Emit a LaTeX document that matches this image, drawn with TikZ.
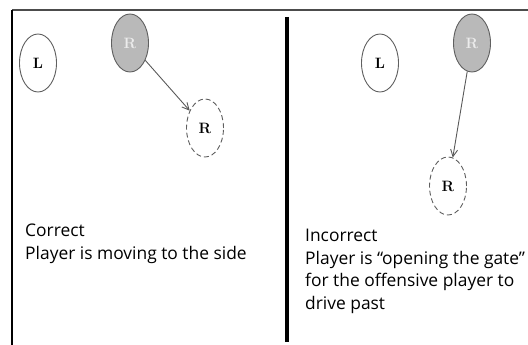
\documentclass[tikz,border=0pt]{standalone}
\usepackage{fontspec}
\newfontfamily\notefont{Open Sans}
\usetikzlibrary{arrows.meta,shapes.geometric}
\tikzset{
  player/.style={ellipse,draw=gray!75!black,line width=0.9pt,
    minimum width=37,minimum height=58,inner sep=0pt,
    font=\bfseries\fontsize{15}{15}\selectfont},
  start/.style={player,fill=gray!55,text=gray!15},
  moved/.style={player,dashed,dash pattern=on 5pt off 3pt},
  move/.style={draw=gray!70!black,line width=0.9pt,-{Straight Barb[length=7pt,width=7pt]}},
  note/.style={anchor=north west,align=left,inner sep=0pt,
    font=\notefont\fontsize{17.4}{22.5}\selectfont}
}
\begin{document}
\begin{tikzpicture}[x=1pt,y=-1pt]
\useasboundingbox (0,0) rectangle (528,345);
\clip (0,0) rectangle (528,345);

\draw[line width=2.5pt,gray!60!black] (12,10) -- (528,10);
\draw[line width=2pt] (12,10) -- (12,345);
\draw[line width=3.5pt] (287,17) -- (287,342);

\node[player] (leftL) at (38,63) {L};
\node[start] (leftR) at (130,43) {R};
\node[moved] (leftRnew) at (205,128) {R};
\draw[move] (leftR) -- (leftRnew);

\node[player] (rightL) at (380,63) {L};
\node[start] (rightR) at (472,43) {R};
\node[moved] (rightRnew) at (448,186) {R};
\draw[move] (rightR) -- (rightRnew);

\node[note] (good) at (25,224) {Correct\\Player is moving to the side};
\node[note] (bad) at (305,229) {Incorrect\\Player is \textquotedblleft opening the gate\textquotedblright\\for the offensive player to\\drive past};
\end{tikzpicture}
\end{document}
